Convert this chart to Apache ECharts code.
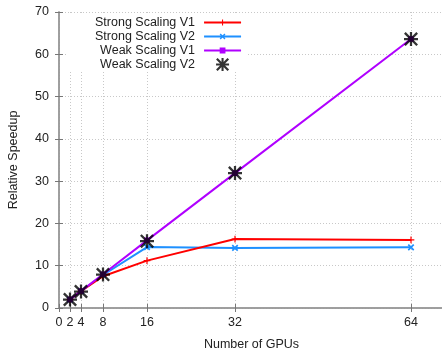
<!DOCTYPE html>
<html>
<head>
<meta charset="utf-8">
<script src="https://cdn.jsdelivr.net/npm/echarts@6/dist/echarts.min.js"></script>
<style>html,body{margin:0;padding:0;background:#fff}#c{width:442px;height:348px}</style>
</head>
<body>
<div id="c"></div>
<script>
var gpus = [2, 4, 8, 16, 32, 64];
var xTicks = [0, 2, 4, 8, 16, 32, 64];
var strongV1 = [2, 4, 7.5, 11.2, 16.3, 16.1];
var strongV2 = [2, 4, 7.8, 14.4, 14.2, 14.35];
var weakV1 = [2, 4, 8, 16, 31.9, 63.6];
var weakV2 = [2, 3.9, 7.9, 15.8, 31.9, 63.6];
var seriesNames = ['Strong Scaling V1', 'Strong Scaling V2', 'Weak Scaling V1', 'Weak Scaling V2'];

function pairs(ys) { return gpus.map(function (g, i) { return [g, ys[i]]; }); }

// padded marker shapes (invisible corner points widen the box so legend icons stay small)
var pad = ' M-4,-4L-4,-4Z M14,14L14,14Z';
var plusPath = 'path://M4.1,0H5.9V4.1H10V5.9H5.9V10H4.1V5.9H0V4.1H4.1Z' + pad;
var xPath = 'path://M0,1.8L1.8,0L5,3.2L8.2,0L10,1.8L6.8,5L10,8.2L8.2,10L5,6.8L1.8,10L0,8.2L3.2,5Z' + pad;
var rectPath = 'path://M0,0H10V10H0Z' + pad;
var starPath = 'path://M8.4,0H11.6V8.4H20V11.6H11.6V20H8.4V11.6H0V8.4H8.4Z M0,2.4L2.4,0L20,17.6L17.6,20Z M17.6,0L20,2.4L2.4,20L0,17.6Z';

var font = 'Liberation Sans, Arial, sans-serif';
var chart = echarts.init(document.getElementById('c'), null, {renderer: 'canvas'});
chart.setOption({
  animation: false,
  backgroundColor: '#fff',
  grid: {left: 59, top: 12, width: 385, height: 296, containLabel: false, outerBoundsMode: 'none'},
  legend: {
    orient: 'vertical', align: 'right', left: 66, top: 14,
    padding: [2, 6, 1, 29], itemGap: 1, itemWidth: 37, itemHeight: 13,
    backgroundColor: '#fff',
    textStyle: {fontFamily: font, fontSize: 12.5, color: '#222', lineHeight: 12, padding: [0, 4, 0, 0]},
    data: seriesNames
  },
  xAxis: [{
    type: 'value', min: 0, max: 70,
    name: 'Number of GPUs', nameLocation: 'middle', nameGap: 30,
    nameTextStyle: {fontFamily: font, fontSize: 12.5, color: '#222'},
    axisLine: {lineStyle: {color: '#999', width: 1.5}},
    axisTick: {inside: true, length: 4, customValues: xTicks, lineStyle: {color: '#777'}},
    axisLabel: {customValues: xTicks, margin: 8, fontFamily: font, fontSize: 12.5, color: '#222'},
    splitLine: {show: true, lineStyle: {color: '#c8c8c8', type: [1, 2], width: 1}}
  }, {
    type: 'value', min: 0, max: 70, position: 'top',
    axisLine: {show: true, lineStyle: {color: '#999', width: 1.5}},
    axisTick: {inside: true, length: 4, customValues: xTicks, lineStyle: {color: '#777'}},
    axisLabel: {show: false}, splitLine: {show: false}
  }],
  yAxis: [{
    type: 'value', min: 0, max: 70, interval: 10,
    name: 'Relative Speedup', nameLocation: 'middle', nameGap: 39,
    nameTextStyle: {fontFamily: font, fontSize: 12.5, color: '#222'},
    axisLine: {show: true, lineStyle: {color: '#999', width: 1.5}},
    axisTick: {show: true, inside: true, length: 4, lineStyle: {color: '#777'}},
    axisLabel: {margin: 10, fontFamily: font, fontSize: 12.5, color: '#222'},
    splitLine: {show: true, lineStyle: {color: '#c8c8c8', type: [1, 2], width: 1}}
  }, {
    type: 'value', min: 0, max: 70, interval: 10, position: 'right',
    axisLine: {show: true, lineStyle: {color: '#999', width: 1.5}},
    axisTick: {show: true, inside: true, length: 4, lineStyle: {color: '#777'}},
    axisLabel: {show: false}, splitLine: {show: false}
  }],
  series: [{
    name: seriesNames[0], type: 'line', data: pairs(strongV1),
    symbol: plusPath, symbolSize: 12,
    lineStyle: {color: '#ff0000', width: 2}, itemStyle: {color: '#ff0000'}, z: 3
  }, {
    name: seriesNames[1], type: 'line', data: pairs(strongV2),
    symbol: xPath, symbolSize: 12,
    lineStyle: {color: '#1e90ff', width: 2}, itemStyle: {color: '#1e90ff'}, z: 2
  }, {
    name: seriesNames[2], type: 'line', data: pairs(weakV1),
    symbol: rectPath, symbolSize: 10,
    lineStyle: {color: '#b000ff', width: 2}, itemStyle: {color: '#b000ff'}, z: 4
  }, {
    name: seriesNames[3], type: 'scatter', data: pairs(weakV2),
    symbol: starPath, symbolSize: 14, symbolKeepAspect: true,
    itemStyle: {color: '#000'}, z: 5
  }]
});
</script>
</body>
</html>
